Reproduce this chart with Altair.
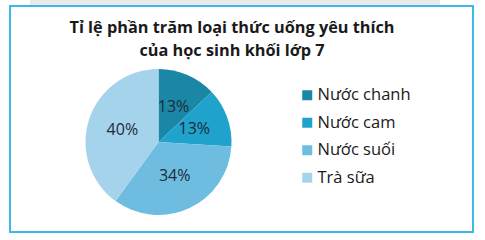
import altair as alt
import pandas as pd

categories = ["Nước chanh", "Nước cam", "Nước suối", "Trà sữa"]
values = [13, 13, 34, 40]
colors = ["#1a87a6", "#1fa3cc", "#6ebde0", "#a5d3ec"]
title_lines = ["Tỉ lệ phần trăm loại thức uống yêu thích", "của học sinh khối lớp 7"]

df = pd.DataFrame({
    "cat": categories,
    "val": values,
    "order": list(range(len(categories))),
    "label": [f"{v}%" for v in values],
})

CX, CY, R = 158.5, 142, 73
FONT = "Open Sans"

frame = alt.Chart(pd.DataFrame({"a": [0]})).mark_rect(
    fillOpacity=0, stroke="#3cb9e6", strokeWidth=2
).encode(x=alt.value(10), x2=alt.value(473), y=alt.value(6), y2=alt.value(232))

shadow = alt.Chart(pd.DataFrame({"a": [0]})).mark_rect(
    fill="#e9e9e9"
).encode(x=alt.value(30), x2=alt.value(440), y=alt.value(0), y2=alt.value(5))

color_scale = alt.Scale(domain=categories, range=colors)

pie = alt.Chart(df).mark_arc(outerRadius=R).encode(
    theta=alt.Theta("val:Q", stack=True),
    order=alt.Order("order:Q"),
    color=alt.Color(
        "cat:N", scale=color_scale, sort=categories,
        legend=alt.Legend(
            title=None, orient="none", legendX=299, legendY=87,
            symbolType="square", symbolSize=100, symbolStrokeWidth=0,
            labelFont=FONT, labelFontSize=16.5, labelColor="#1a1a1a",
            rowPadding=10.5, labelOffset=2,
        ),
    ),
    x=alt.value(CX), y=alt.value(CY),
)

labels = alt.Chart(df).mark_text(
    radius=38, font=FONT, fontSize=16, color="#1d2b3a"
).encode(
    theta=alt.Theta("val:Q", stack=True),
    order=alt.Order("order:Q"),
    text="label:N",
    x=alt.value(CX), y=alt.value(CY),
)

title1 = alt.Chart(pd.DataFrame({"t": [title_lines[0]]})).mark_text(
    font=FONT, fontSize=16.3, fontWeight="bold", color="#1a1a1a"
).encode(text="t:N", x=alt.value(232), y=alt.value(28))

title2 = alt.Chart(pd.DataFrame({"t": [title_lines[1]]})).mark_text(
    font=FONT, fontSize=16.3, fontWeight="bold", color="#1a1a1a"
).encode(text="t:N", x=alt.value(232), y=alt.value(51))

chart = alt.layer(shadow, frame, pie, labels, title1, title2).properties(
    width=485, height=240, padding=0,
    autosize=alt.AutoSizeParams(type="none"),
    background="white",
).configure_view(stroke=None)

chart.save("out.html", embed_options={"renderer": "svg", "actions": False})
